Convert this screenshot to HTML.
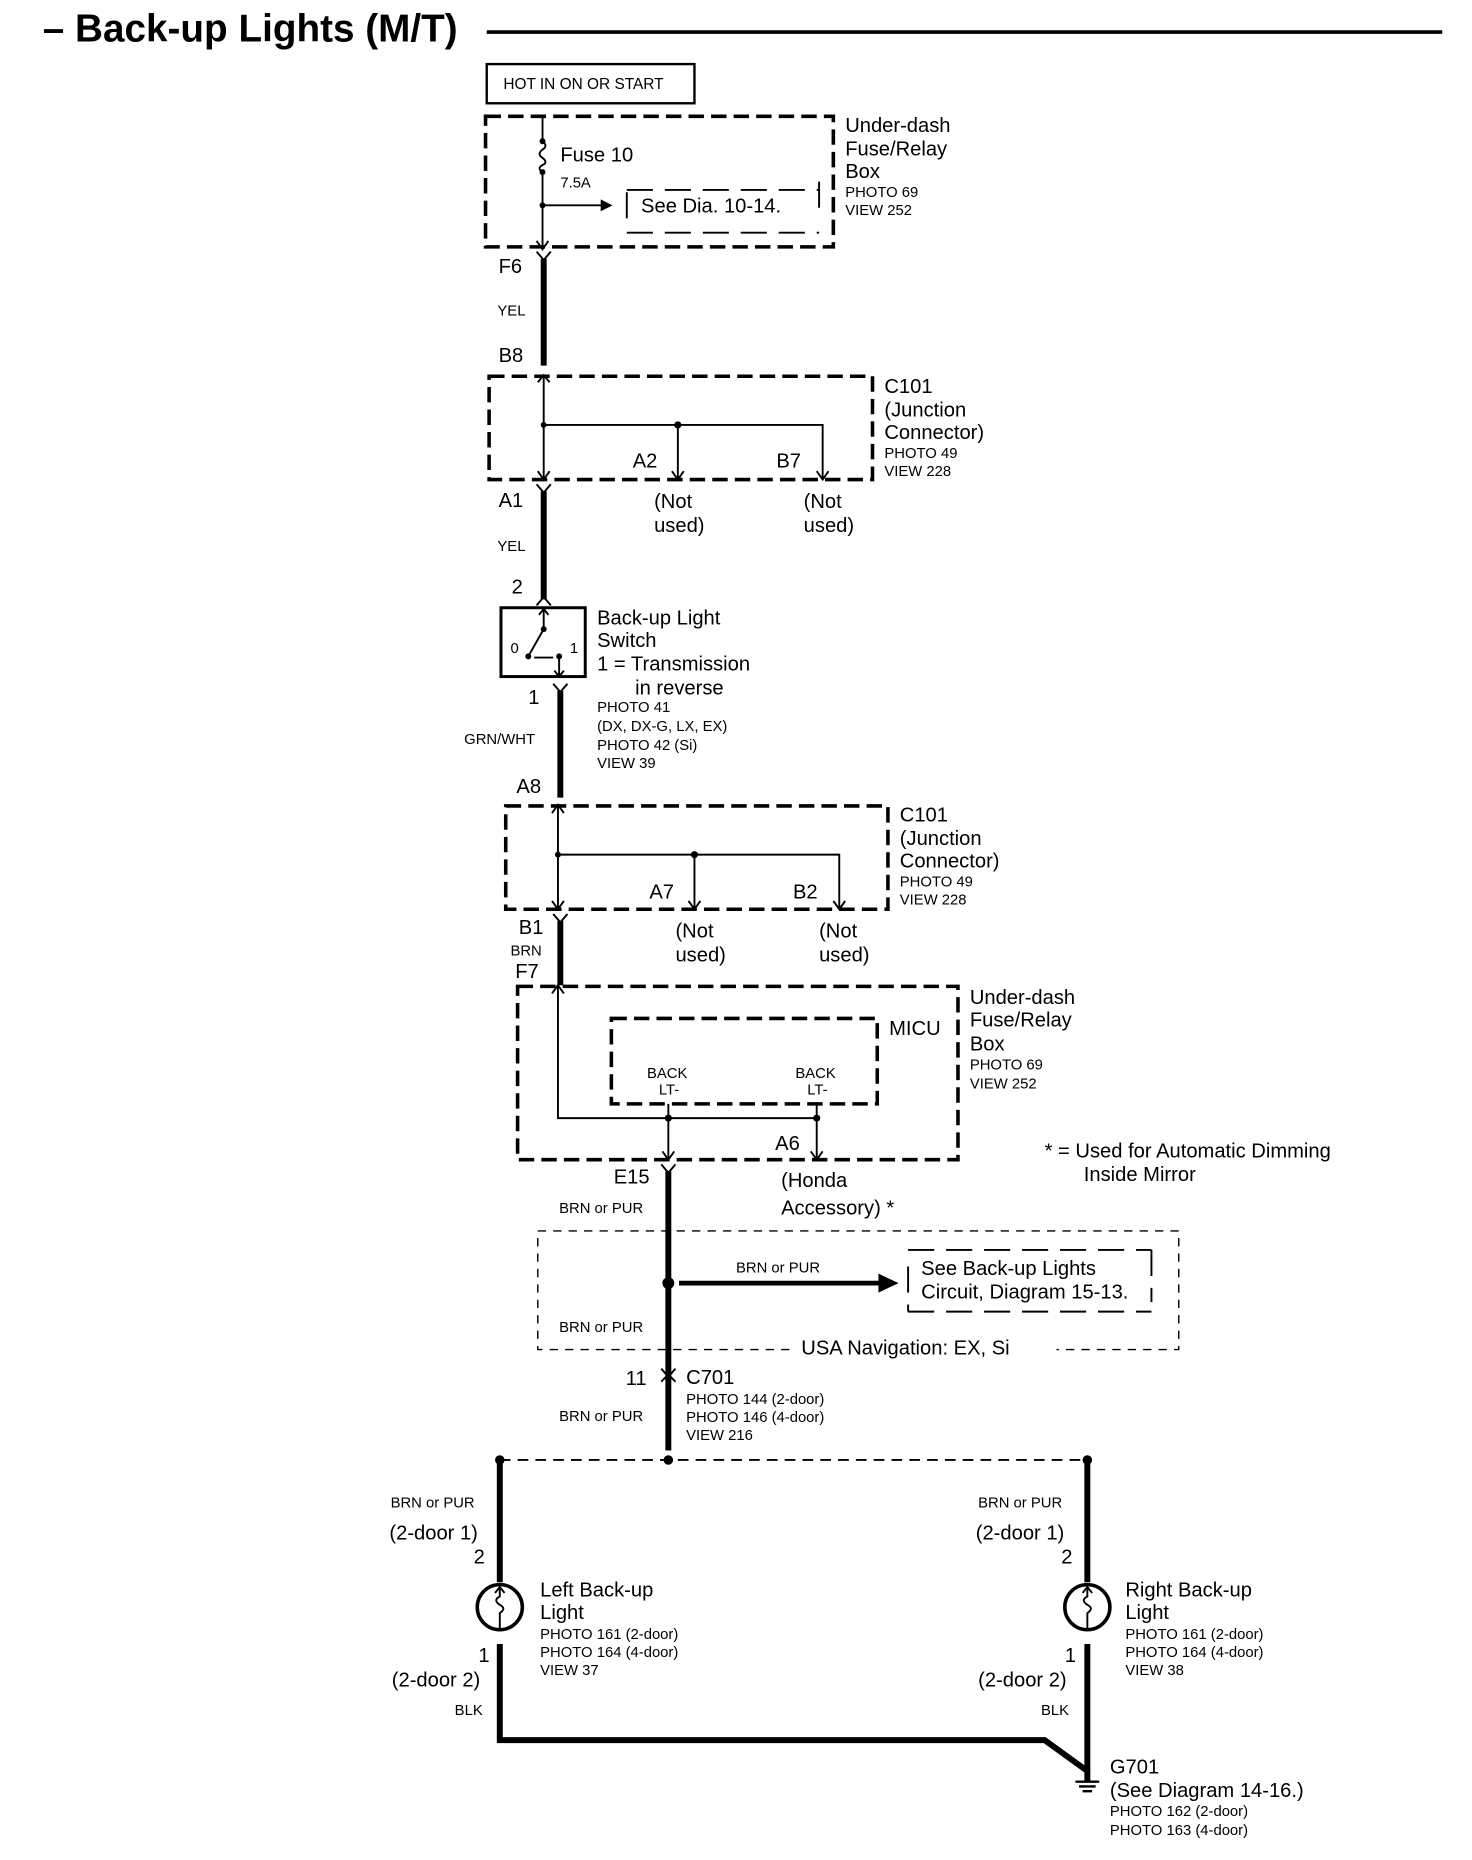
<!DOCTYPE html>
<html><head><meta charset="utf-8"><style>
html,body{margin:0;padding:0;background:#fff;}
svg{display:block;}
text{font-family:"Liberation Sans",sans-serif;fill:#000;}
.s{font-size:12.5px;}
.m{font-size:17px;}
.t{stroke:#000;stroke-width:1.6;fill:none;}
.w{stroke:#000;stroke-width:5;fill:none;}
.d{stroke:#000;stroke-width:3;fill:none;stroke-dasharray:13,6;}
.dt{stroke:#000;stroke-width:1.2;fill:none;stroke-dasharray:7,6;}
.dl{stroke:#000;stroke-width:1.6;fill:none;stroke-dasharray:22,10;}
</style></head><body>
<svg width="1472" height="1860" viewBox="0 0 1240 1567" xmlns="http://www.w3.org/2000/svg">
<text x="36" y="35" font-size="32.6" font-weight="bold">– Back-up Lights (M/T)</text>
<line x1="410" y1="27" x2="1215" y2="27" stroke="#000" stroke-width="3"/>

<rect x="410" y="54" width="175" height="33" fill="none" stroke="#000" stroke-width="2"/>
<text x="424" y="75" font-size="13">HOT IN ON OR START</text>

<!-- box 1 -->
<rect x="409" y="98" width="293" height="110" class="d"/>
<path class="t" d="M457 98 V119 M457 145 V210"/>
<path class="t" d="M457 119 q5 4 0 7 q-5 4 0 7 q5 4 0 6 q-5 3 0 6"/>
<circle cx="457" cy="119" r="2.5"/><circle cx="457" cy="145" r="2.5"/><circle cx="457" cy="173" r="2.5"/>
<path class="t" d="M457 173 H508"/><path d="M506 168 L516 173 L506 178Z"/>
<path class="t" d="M452 203 L457 210 L462 203"/>
<path class="dl" d="M528 160 H690 M690 153 V181 M528 196 H690 M528 162 V190"/>
<text x="472" y="136" class="m">Fuse 10</text>
<text x="472" y="158" class="s">7.5A</text>
<text x="540" y="179" class="m">See Dia. 10-14.</text>
<text x="712" y="111" class="m">Under-dash</text><text x="712" y="131" class="m">Fuse/Relay</text><text x="712" y="150" class="m">Box</text>
<text x="712" y="166" class="s">PHOTO 69</text><text x="712" y="181" class="s">VIEW 252</text>

<!-- F6 -> B8 -->
<path class="w" d="M458 218 V308"/><path class="t" stroke-width="3" d="M452 212 L458 219 L464 212"/>
<text x="420" y="230" class="m">F6</text><text x="419" y="266" class="s">YEL</text><text x="420" y="305" class="m">B8</text>

<!-- box 2 -->
<rect x="412" y="317" width="323" height="87" class="d"/>
<path class="t" d="M453 322 L458 316 L463 322 M458 316 V404 M458 358 H693 V404 M571 358 V404 M566 397 L571 404 L576 397 M688 397 L693 404 L698 397 M453 397 L458 404 L463 397"/>
<circle cx="458" cy="358" r="2.5"/><circle cx="571" cy="358" r="3"/>
<text x="533" y="394" class="m">A2</text><text x="654" y="394" class="m">B7</text>
<text x="745" y="331" class="m">C101</text><text x="745" y="351" class="m">(Junction</text><text x="745" y="370" class="m">Connector)</text>
<text x="745" y="386" class="s">PHOTO 49</text><text x="745" y="401" class="s">VIEW 228</text>
<text x="420" y="427" class="m">A1</text>
<text x="551" y="428" class="m">(Not</text><text x="551" y="448" class="m">used)</text>
<text x="677" y="428" class="m">(Not</text><text x="677" y="448" class="m">used)</text>
<path class="w" d="M458 414 V505"/><path class="t" stroke-width="3" d="M452 408 L458 415 L464 408 M452 510 L458 503 L464 510"/>
<text x="419" y="464" class="s">YEL</text><text x="431" y="500" class="m">2</text>

<!-- switch -->
<rect x="422" y="512" width="71" height="58" fill="none" stroke="#000" stroke-width="2.5"/>
<path class="t" d="M458 512 V530 M454 518 L458 513 L462 518 M458 530 L445 553 M450 554 H466 M471 553 V570 M467 565 L471 570 L475 565"/>
<circle cx="458" cy="530" r="2.5"/><circle cx="445" cy="553" r="2.5"/><circle cx="471" cy="553" r="2.5"/>
<text x="430" y="550" class="s">0</text><text x="480" y="550" class="s">1</text>
<text x="503" y="526" class="m">Back-up Light</text><text x="503" y="545" class="m">Switch</text>
<text x="503" y="565" class="m">1 = Transmission</text><text x="535" y="585" class="m">in reverse</text>
<text x="503" y="600" class="s">PHOTO 41</text><text x="503" y="616" class="s">(DX, DX-G, LX, EX)</text>
<text x="503" y="632" class="s">PHOTO 42 (Si)</text><text x="503" y="647" class="s">VIEW 39</text>
<path class="w" d="M472 582 V672"/><path class="t" stroke-width="3" d="M466 576 L472 583 L478 576"/>
<text x="445" y="593" class="m">1</text><text x="391" y="627" class="s">GRN/WHT</text><text x="435" y="668" class="m">A8</text>

<!-- box 3 -->
<rect x="426" y="679" width="322" height="87" class="d"/>
<path class="t" d="M465 685 L470 678 L475 685 M470 678 V766 M470 720 H707 V766 M585 720 V766 M580 759 L585 766 L590 759 M702 759 L707 766 L712 759 M465 759 L470 766 L475 759"/>
<circle cx="470" cy="720" r="2.5"/><circle cx="585" cy="720" r="3"/>
<text x="547" y="757" class="m">A7</text><text x="668" y="757" class="m">B2</text>
<text x="758" y="692" class="m">C101</text><text x="758" y="712" class="m">(Junction</text><text x="758" y="731" class="m">Connector)</text>
<text x="758" y="747" class="s">PHOTO 49</text><text x="758" y="762" class="s">VIEW 228</text>
<text x="437" y="787" class="m">B1</text><text x="430" y="805" class="s">BRN</text><text x="434" y="824" class="m">F7</text>
<text x="569" y="790" class="m">(Not</text><text x="569" y="810" class="m">used)</text>
<text x="690" y="790" class="m">(Not</text><text x="690" y="810" class="m">used)</text>
<path class="w" d="M472 776 V830"/><path class="t" stroke-width="3" d="M466 770 L472 777 L478 770"/>

<!-- box 4 -->
<rect x="436" y="831" width="371" height="146" class="d"/>
<rect x="515" y="858" width="224" height="72" class="d"/>
<path class="t" d="M465 837 L470 830 L475 837 M470 830 V942 H688 M563 930 V977 M688 930 V977 M558 970 L563 977 L568 970 M683 970 L688 977 L693 970"/>
<circle cx="563" cy="942" r="3"/><circle cx="688" cy="942" r="3"/>
<text x="749" y="872" class="m">MICU</text>
<text x="545" y="908" class="s">BACK</text><text x="555" y="922" class="s">LT-</text>
<text x="670" y="908" class="s">BACK</text><text x="680" y="922" class="s">LT-</text>
<text x="653" y="969" class="m">A6</text>
<text x="817" y="846" class="m">Under-dash</text><text x="817" y="865" class="m">Fuse/Relay</text><text x="817" y="885" class="m">Box</text>
<text x="817" y="901" class="s">PHOTO 69</text><text x="817" y="917" class="s">VIEW 252</text>
<text x="880" y="975" class="m">* = Used for Automatic Dimming</text><text x="913" y="995" class="m">Inside Mirror</text>

<path class="w" d="M563 987 V1222"/><path class="t" stroke-width="3" d="M557 981 L563 988 L569 981 M557 1153 L563 1160 L569 1153 M557 1164 L563 1158 L569 1164"/>
<text x="517" y="997" class="m">E15</text>
<text x="471" y="1022" class="s">BRN or PUR</text>
<text x="658" y="1000" class="m">(Honda</text><text x="658" y="1023" class="m">Accessory) *</text>

<path class="dt" d="M453 1037 H993 V1137 H890 M665 1137 H453 V1037"/>
<circle cx="563" cy="1081" r="5"/>
<path stroke="#000" stroke-width="4" d="M572 1081 H742"/><path d="M740 1073 L757 1081 L740 1089Z"/>
<text x="620" y="1072" class="s">BRN or PUR</text>
<path class="dl" d="M765 1053 H970 M970 1053 V1097 M765 1105 H970 M765 1067 V1105"/>
<text x="776" y="1074" class="m">See Back-up Lights</text><text x="776" y="1094" class="m">Circuit, Diagram 15-13.</text>
<text x="471" y="1122" class="s">BRN or PUR</text>
<text x="675" y="1141" class="m">USA Navigation: EX, Si</text>

<text x="527" y="1167" class="m">11</text><text x="578" y="1166" class="m">C701</text>
<text x="578" y="1183" class="s">PHOTO 144 (2-door)</text><text x="578" y="1198" class="s">PHOTO 146 (4-door)</text><text x="578" y="1213" class="s">VIEW 216</text>
<text x="471" y="1197" class="s">BRN or PUR</text>

<path class="t" stroke-dasharray="9,6" d="M421 1230 H916"/>
<circle cx="421" cy="1230" r="4"/><circle cx="563" cy="1230" r="4"/><circle cx="916" cy="1230" r="4"/>

<!-- left -->
<path class="w" d="M421 1230 V1333 M421 1385 V1466 H880 L916 1492 V1500"/>
<circle cx="421" cy="1354" r="19" fill="#fff" stroke="#000" stroke-width="3"/>
<path class="t" d="M421 1337 V1345 q-6 3 0 7 q6 3 0 7 V1372 M417 1342 L421 1337 L425 1342"/>
<text x="329" y="1270" class="s">BRN or PUR</text><text x="328" y="1297" class="m">(2-door 1)</text><text x="399" y="1317" class="m">2</text>
<text x="403" y="1400" class="m">1</text><text x="330" y="1421" class="m">(2-door 2)</text><text x="383" y="1445" class="s">BLK</text>
<text x="455" y="1345" class="m">Left Back-up</text><text x="455" y="1364" class="m">Light</text>
<text x="455" y="1381" class="s">PHOTO 161 (2-door)</text><text x="455" y="1396" class="s">PHOTO 164 (4-door)</text><text x="455" y="1411" class="s">VIEW 37</text>

<!-- right -->
<path class="w" d="M916 1230 V1333 M916 1385 V1492"/>
<circle cx="916" cy="1354" r="19" fill="#fff" stroke="#000" stroke-width="3"/>
<path class="t" d="M916 1337 V1345 q-6 3 0 7 q6 3 0 7 V1372 M912 1342 L916 1337 L920 1342"/>
<text x="824" y="1270" class="s">BRN or PUR</text><text x="822" y="1297" class="m">(2-door 1)</text><text x="894" y="1317" class="m">2</text>
<text x="897" y="1400" class="m">1</text><text x="824" y="1421" class="m">(2-door 2)</text><text x="877" y="1445" class="s">BLK</text>
<text x="948" y="1345" class="m">Right Back-up</text><text x="948" y="1364" class="m">Light</text>
<text x="948" y="1381" class="s">PHOTO 161 (2-door)</text><text x="948" y="1396" class="s">PHOTO 164 (4-door)</text><text x="948" y="1411" class="s">VIEW 38</text>

<!-- ground -->
<path stroke="#000" stroke-width="2" d="M906 1501 H926 M909 1505 H923 M912 1509 H920"/>
<text x="935" y="1494" class="m">G701</text><text x="935" y="1514" class="m">(See Diagram 14-16.)</text>
<text x="935" y="1530" class="s">PHOTO 162 (2-door)</text><text x="935" y="1546" class="s">PHOTO 163 (4-door)</text>
</svg>
</body></html>
